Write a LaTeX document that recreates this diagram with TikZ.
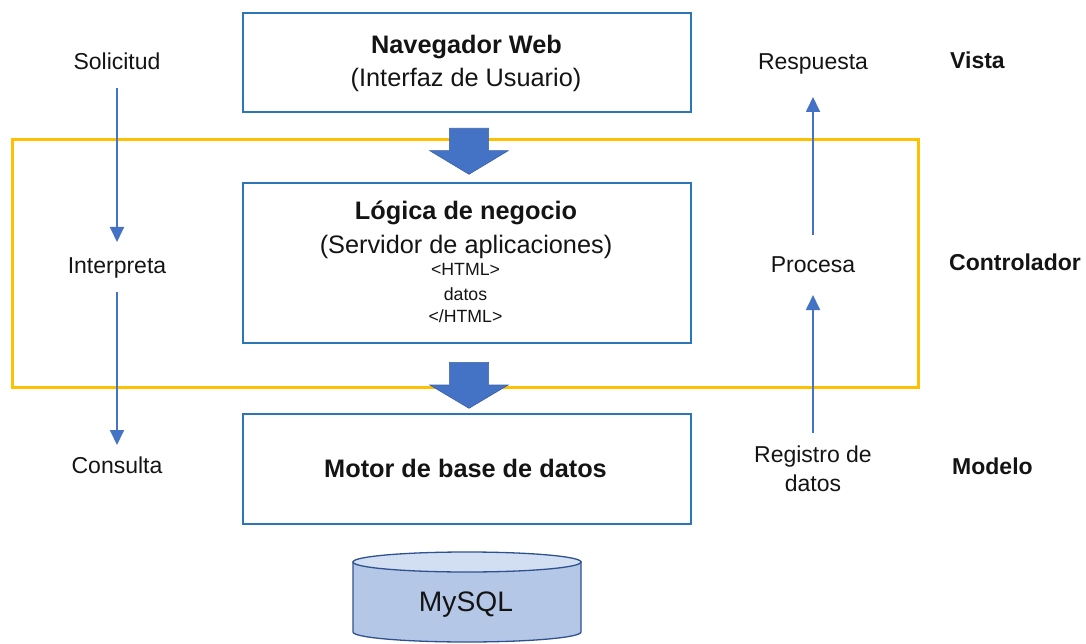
\documentclass[tikz,border=0pt]{standalone}
\usepackage{fontspec}
\setmainfont{Liberation Sans}
\usetikzlibrary{arrows.meta}
\definecolor{boxblue}{RGB}{46,117,182}
\definecolor{arrblue}{RGB}{68,114,196}
\definecolor{ygold}{RGB}{255,192,0}
\definecolor{cylfill}{RGB}{180,199,231}
\definecolor{cyltop}{RGB}{210,222,241}
\definecolor{cylline}{RGB}{47,82,143}
\definecolor{txtcol}{RGB}{20,20,20}
\begin{document}
\begin{tikzpicture}[x=1pt,y=-1pt,
  boxnode/.style={draw=boxblue, line width=2pt, minimum width=447.4pt, inner sep=0pt},
  maintxt/.style={anchor=base, inner sep=0pt, text=txtcol, font=\fontsize{25.3}{30}\selectfont},
  mainbold/.style={maintxt, font=\fontsize{25.3}{30}\selectfont\bfseries},
  smalltxt/.style={anchor=base, inner sep=0pt, text=txtcol, font=\fontsize{17.7}{22}\selectfont},
  sidetxt/.style={anchor=base, inner sep=0pt, text=txtcol, font=\fontsize{23}{28.3}\selectfont},
  boldlbl/.style={anchor=base west, inner sep=0pt, text=txtcol, font=\fontsize{23}{28}\selectfont\bfseries},
  conn/.style={draw=arrblue, line width=1.8pt, -{Triangle[length=15pt,width=14pt]}},
  blockarrow/.style={fill=arrblue, draw=arrblue!85!black, line width=0.6pt}
]
\useasboundingbox (0,0) rectangle (1086,644);

% controller frame
\node[draw=ygold, line width=3pt, minimum width=906pt, minimum height=247.5pt, inner sep=0pt] (ctrl) at (465,263.25) {};

% block arrows
\path[blockarrow] (449.4,128.3) -- (488.6,128.3) -- (488.6,150.7) -- (508.2,150.7) -- (469,174.3) -- (429.8,150.7) -- (449.4,150.7) -- cycle;
\path[blockarrow] (449.4,362.3) -- (488.6,362.3) -- (488.6,385) -- (508.2,385) -- (469,408.3) -- (429.8,385) -- (449.4,385) -- cycle;

% boxes
\node[boxnode, minimum height=99pt] (web) at (467,62.8) {};
\node[boxnode, minimum height=160pt] (mid) at (467,263.3) {};
\node[boxnode, minimum height=110pt] (mot) at (467,469) {};

% box texts
\node[mainbold] (t1) at (466.5,54) {Navegador Web};
\node[maintxt] (t2) at (466,86.7) {(Interfaz de Usuario)};
\node[mainbold] (t3) at (466,220) {Lógica de negocio};
\node[maintxt] (t4) at (466,254) {(Servidor de aplicaciones)};
\node[smalltxt] (h1) at (465.5,275.7) {<HTML>};
\node[smalltxt] (h2) at (465.5,300) {datos};
\node[smalltxt] (h3) at (465.5,322.3) {</HTML>};
\node[mainbold] (t5) at (465.5,477.3) {Motor de base de datos};

% database cylinder
\path[fill=cylfill, draw=cylline, line width=1.3pt] (353,562) -- (353,632) arc[start angle=180, end angle=0, x radius=114, y radius=10] -- (581,562) -- cycle;
\path[fill=cyltop, draw=cylline, line width=1.3pt] (467,562) ellipse [x radius=114, y radius=10];
\node[maintxt, font=\fontsize{28.2}{33}\selectfont] (db) at (466,611.7) {MySQL};

% left labels
\node[sidetxt] (sol) at (117,69.5) {Solicitud};
\node[sidetxt] (int) at (117,273.5) {Interpreta};
\node[sidetxt] (con) at (117,473) {Consulta};

% right labels
\node[sidetxt] (res) at (813,70) {Respuesta};
\node[sidetxt] (pro) at (813,272.7) {Procesa};
\node[sidetxt, align=center] (reg) at (813,491) {Registro de\\datos};

% layer labels
\node[boldlbl] (vis) at (950,68.3) {Vista};
\node[boldlbl] (ctl) at (949,270.7) {Controlador};
\node[boldlbl] (mod) at (952,474) {Modelo};

% connectors
\draw[conn, shorten <=18.5pt, shorten >=31.5pt] (sol.base) -- (int.base);
\draw[conn, shorten <=18.5pt, shorten >=28pt] (int.base) -- (con.base);
\draw[conn, shorten <=58pt, shorten >=22.3pt] (reg.base) -- (pro.base);
\draw[conn, shorten <=37.7pt, shorten >=27pt] (pro.base) -- (res.base);
\end{tikzpicture}
\end{document}
